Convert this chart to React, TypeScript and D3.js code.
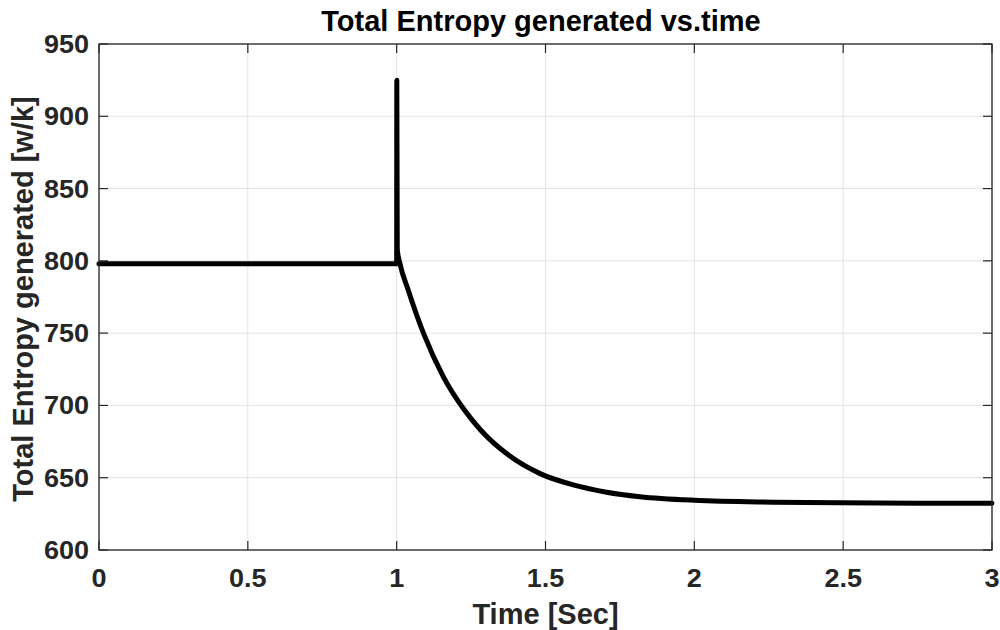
import React from "react";
import * as d3 from "d3";

const xTicks = [0, 0.5, 1, 1.5, 2, 2.5, 3];
const xTickLabels = ["0", "0.5", "1", "1.5", "2", "2.5", "3"];
const yTicks = [600, 650, 700, 750, 800, 850, 900, 950];
const yTickLabels = ["600", "650", "700", "750", "800", "850", "900", "950"];

const timeSec = [
  0, 1.0, 1.0005, 1.002, 1.011, 1.039, 1.09, 1.157, 1.227, 1.282, 1.378, 1.48,
  1.593, 1.705, 1.817, 2.0, 2.266, 2.49, 2.75, 3.0,
];
const entropy = [
  798, 798, 925, 808, 798.2, 779.7, 750, 719.8, 697, 683, 665.3, 653, 645,
  640, 636.9, 634.4, 633.1, 632.6, 632.4, 632.3,
];

const W = 1000;
const H = 630;
const M = { left: 99, right: 992, top: 44, bottom: 550 };
const FONT = "'Liberation Sans', Arial, Helvetica, sans-serif";
const AX = "#262626";
const SX = 1.08;

export default function App() {
  const x = d3.scaleLinear().domain([0, 3]).range([M.left, M.right]);
  const y = d3.scaleLinear().domain([600, 950]).range([M.bottom, M.top]);
  const pts = timeSec.map((t, i) => [t, entropy[i]] as [number, number]);
  const line = d3
    .line<[number, number]>()
    .x((d) => x(d[0]))
    .y((d) => y(d[1]))
    .curve(d3.curveMonotoneX);
  const tickLen = 9;

  return (
    <svg
      width={W}
      height={H}
      style={{ position: "absolute", left: 0, top: 0, background: "#fff" }}
    >
      <rect x={0} y={0} width={W} height={H} fill="#fff" />
      {xTicks.map((t) => (
        <line
          key={"gx" + t}
          x1={x(t)}
          x2={x(t)}
          y1={M.top}
          y2={M.bottom}
          stroke="#e3e3e3"
          strokeWidth={1}
        />
      ))}
      {yTicks.map((t) => (
        <line
          key={"gy" + t}
          x1={M.left}
          x2={M.right}
          y1={y(t)}
          y2={y(t)}
          stroke="#e3e3e3"
          strokeWidth={1}
        />
      ))}
      {xTicks.map((t) => (
        <g key={"tx" + t}>
          <line x1={x(t)} x2={x(t)} y1={M.bottom} y2={M.bottom - tickLen} stroke={AX} strokeWidth={1.2} />
          <line x1={x(t)} x2={x(t)} y1={M.top} y2={M.top + tickLen} stroke={AX} strokeWidth={1.2} />
        </g>
      ))}
      {yTicks.map((t) => (
        <g key={"ty" + t}>
          <line x1={M.left} x2={M.left + tickLen} y1={y(t)} y2={y(t)} stroke={AX} strokeWidth={1.2} />
          <line x1={M.right} x2={M.right - tickLen} y1={y(t)} y2={y(t)} stroke={AX} strokeWidth={1.2} />
        </g>
      ))}
      <path
        d={line(pts) || ""}
        fill="none"
        stroke="#000"
        strokeWidth={5}
        strokeLinejoin="round"
        strokeLinecap="round"
      />
      <rect
        x={M.left}
        y={M.top}
        width={M.right - M.left}
        height={M.bottom - M.top}
        fill="none"
        stroke={AX}
        strokeWidth={1.3}
      />
      {xTicks.map((t, i) => (
        <g key={"lx" + t} transform={`translate(${x(t)}, 587) scale(${SX},1)`}>
          <text
            x={0}
            y={0}
            textAnchor="middle"
            fontFamily={FONT}
            fontWeight="bold"
            fontSize={25}
            fill={AX}
          >
            {xTickLabels[i]}
          </text>
        </g>
      ))}
      {yTicks.map((t, i) => (
        <g key={"ly" + t} transform={`translate(89, ${y(t) + 9}) scale(${SX},1)`}>
          <text
            x={0}
            y={0}
            textAnchor="end"
            fontFamily={FONT}
            fontWeight="bold"
            fontSize={25}
            fill={AX}
          >
            {yTickLabels[i]}
          </text>
        </g>
      ))}
      <text
        x={541}
        y={31}
        textAnchor="middle"
        fontFamily={FONT}
        fontWeight="bold"
        fontSize={29}
        fill="#000"
      >
        Total Entropy generated vs.time
      </text>
      <text
        x={(M.left + M.right) / 2}
        y={624}
        textAnchor="middle"
        fontFamily={FONT}
        fontWeight="bold"
        fontSize={29}
        fill={AX}
      >
        Time [Sec]
      </text>
      <text
        transform={`translate(33, ${(95 + 503) / 2}) rotate(-90)`}
        textAnchor="middle"
        fontFamily={FONT}
        fontWeight="bold"
        fontSize={29}
        fill={AX}
      >
        Total Entropy generated [w/k]
      </text>
    </svg>
  );
}
